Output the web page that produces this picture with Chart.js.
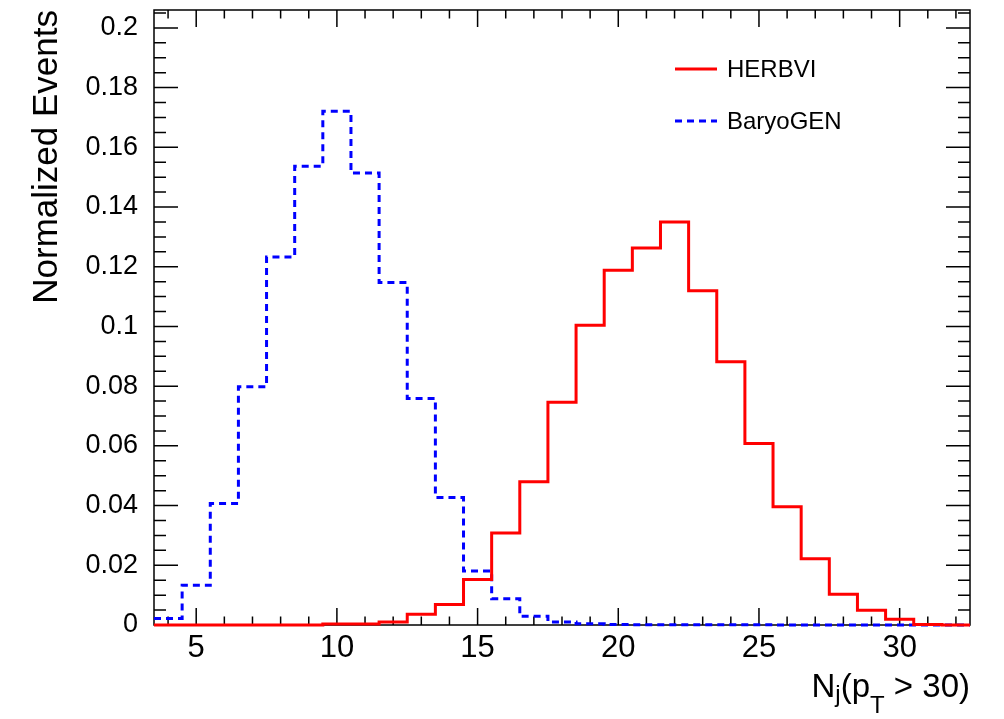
<!DOCTYPE html>
<html>
<head>
<meta charset="utf-8">
<script src="https://cdn.jsdelivr.net/npm/chart.js@4/dist/chart.umd.min.js"></script>
<style>
    body { margin: 0; background: #fff; }
    #wrap { width: 1004px; height: 719px; position: relative; }
</style>
</head>
<body>
<div id="wrap"><canvas id="nj-chart"></canvas></div>
<script>
// Jet multiplicity, one entry per bin (bin centre)
const nj = [4, 5, 6, 7, 8, 9, 10, 11, 12, 13, 14, 15, 16, 17, 18, 19, 20,
            21, 22, 23, 24, 25, 26, 27, 28, 29, 30, 31, 32];

const herbvi = [0, 0, 0, 0, 0, 0, 0.0003, 0.0003, 0.001, 0.0036, 0.0069, 0.0152,
                0.0308, 0.048, 0.0746, 0.1004, 0.1188, 0.1263, 0.135, 0.112,
                0.0882, 0.0608, 0.0396, 0.0222, 0.0103, 0.0049, 0.0019, 0.0002, 0];

const baryogen = [0.0022, 0.0133, 0.0407, 0.0798, 0.1233, 0.1537, 0.1721, 0.1514,
                  0.1147, 0.0759, 0.0427, 0.0181, 0.0088, 0.0029, 0.001, 0.0004,
                  0.0002, 0.0001, 0.0001, 0.0001, 0.0001, 0.0001, 0, 0, 0, 0, 0, 0, 0];

const xTicks = [5, 10, 15, 20, 25, 30];
const yTicks = [0, 0.02, 0.04, 0.06, 0.08, 0.1, 0.12, 0.14, 0.16, 0.18, 0.2];

// histogram outline: one point per low bin edge, plus the last high edge
function toSteps(values) {
    const pts = values.map((v, i) => ({ x: nj[i] - 0.5, y: v }));
    pts.push({ x: nj[nj.length - 1] + 0.5, y: values[values.length - 1] });
    return pts;
}

// ROOT style frame with inward ticks on all four sides
const frameTicks = {
    id: 'frameTicks',
    beforeDatasetsDraw(chart) {
        const { ctx, chartArea: a, scales: { x, y } } = chart;
        ctx.save();
        ctx.strokeStyle = '#000';
        ctx.lineWidth = 1.5;
        ctx.strokeRect(a.left, a.top, a.right - a.left, a.bottom - a.top);

        ctx.beginPath();
        for (let v = Math.ceil(x.min); v <= x.max; v++) {
            const px = x.getPixelForValue(v);
            const len = v % 5 === 0 ? 17 : 8.5;
            ctx.moveTo(px, a.bottom); ctx.lineTo(px, a.bottom - len);
            ctx.moveTo(px, a.top); ctx.lineTo(px, a.top + len);
        }
        for (let k = 0; k * 0.005 <= y.max + 1e-9; k++) {
            const py = y.getPixelForValue(k * 0.005);
            const len = k % 4 === 0 ? 24 : 12;
            ctx.moveTo(a.left, py); ctx.lineTo(a.left + len, py);
            ctx.moveTo(a.right, py); ctx.lineTo(a.right - len, py);
        }
        ctx.stroke();
        ctx.restore();
    },
    afterDraw(chart) {
        const { ctx, chartArea: a } = chart;
        ctx.save();
        ctx.fillStyle = '#000';

        // y title, right-aligned to the top of the frame
        ctx.translate(57, a.top);
        ctx.rotate(-Math.PI / 2);
        ctx.font = '35px "Liberation Sans", Arial, sans-serif';
        ctx.textAlign = 'right';
        ctx.textBaseline = 'alphabetic';
        ctx.fillText('Normalized Events', 0, 0);
        ctx.setTransform(1, 0, 0, 1, 0, 0);

        // x title N_j(p_T > 30), right-aligned to the frame
        const big = '33px "Liberation Sans", Arial, sans-serif';
        const small = '24px "Liberation Sans", Arial, sans-serif';
        const parts = [
            { t: 'N', f: big, dy: 0 },
            { t: 'j', f: small, dy: 5 },
            { t: '(p', f: big, dy: 0 },
            { t: 'T', f: small, dy: 16 },
            { t: ' > 30)', f: big, dy: 0 }
        ];
        let w = 0;
        parts.forEach(p => { ctx.font = p.f; p.w = ctx.measureText(p.t).width; w += p.w; });
        let cx = a.right - w;
        const base = 697;
        ctx.textAlign = 'left';
        parts.forEach(p => { ctx.font = p.f; ctx.fillText(p.t, cx, base + p.dy); cx += p.w; });

        // legend
        ctx.font = '24px "Liberation Sans", Arial, sans-serif';
        ctx.textBaseline = 'middle';
        chart.data.datasets.forEach((ds, i) => {
            const ly = 69 + i * 52;
            ctx.strokeStyle = ds.borderColor;
            ctx.lineWidth = ds.borderWidth;
            ctx.setLineDash(ds.borderDash || []);
            ctx.beginPath();
            ctx.moveTo(675, ly); ctx.lineTo(717, ly);
            ctx.stroke();
            ctx.fillText(ds.label, 727, ly + 1);
        });
        ctx.restore();
    }
};

new Chart(document.getElementById('nj-chart'), {
    type: 'line',
    data: {
        datasets: [
            {
                label: 'HERBVI',
                data: toSteps(herbvi),
                borderColor: '#ff0000',
                borderWidth: 3,
                stepped: true,
                pointRadius: 0,
                fill: false,
                clip: 4
            },
            {
                label: 'BaryoGEN',
                data: toSteps(baryogen),
                borderColor: '#0000ff',
                borderWidth: 3,
                borderDash: [7, 5],
                stepped: true,
                pointRadius: 0,
                fill: false,
                clip: 4
            }
        ]
    },
    options: {
        responsive: true,
        maintainAspectRatio: false,
        devicePixelRatio: 1,
        animation: false,
        layout: { padding: { top: 10, right: 34, left: 0, bottom: 0 } },
        plugins: {
            legend: { display: false },
            tooltip: { enabled: false }
        },
        scales: {
            x: {
                type: 'linear',
                min: 3.5,
                max: 32.5,
                afterBuildTicks: s => { s.ticks = xTicks.map(v => ({ value: v })); },
                afterFit: s => { s.height = 94; s.paddingLeft = 0; s.paddingRight = 0; },
                grid: { display: false },
                border: { display: false },
                ticks: {
                    color: '#000',
                    padding: -3,
                    maxRotation: 0,
                    font: { family: '"Liberation Sans", Arial, sans-serif', size: 31 }
                }
            },
            y: {
                type: 'linear',
                min: 0,
                max: 0.206,
                afterBuildTicks: s => { s.ticks = yTicks.map(v => ({ value: v })); },
                afterFit: s => { s.width = 154; s.paddingTop = 0; s.paddingBottom = 0; },
                grid: { display: false },
                border: { display: false },
                ticks: {
                    color: '#000',
                    padding: 8,
                    callback: v => String(parseFloat(v.toFixed(3))),
                    font: { family: '"Liberation Sans", Arial, sans-serif', size: 27 }
                }
            }
        }
    },
    plugins: [frameTicks]
});
</script>
</body>
</html>
